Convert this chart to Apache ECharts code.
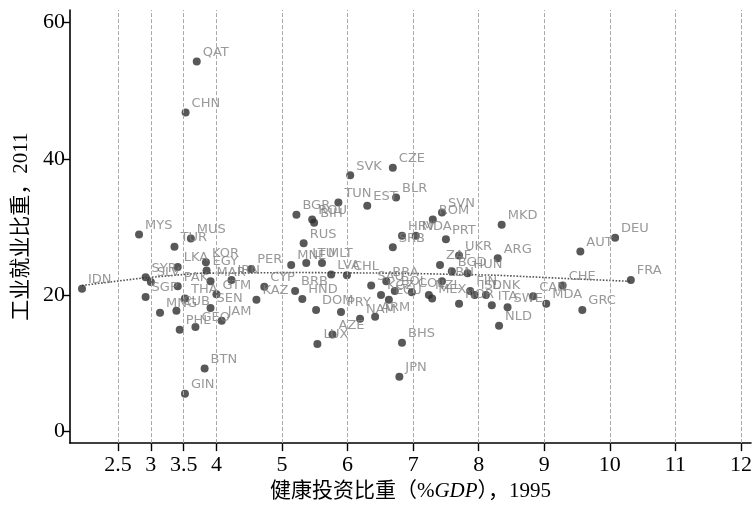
<!DOCTYPE html>
<html>
<head>
<meta charset="utf-8">
<script src="https://cdn.jsdelivr.net/npm/echarts@6/dist/echarts.min.js"></script>
<style>
  html, body { margin: 0; padding: 0; background: #fff; }
  #chart { width: 755px; height: 507px; }
</style>
</head>
<body>
<div id="chart"></div>
<script>
// country codes, health spending share 1995 (% GDP), industry employment share 2011
const countries = ['IDN','MYS','TUR','MUS','LKA','KOR','EGY','SYR','SLV','PAK','SGP','THA','MAR','IRN','PER','GTM','SEN','MNG','CUB','PHL','GEO','JAM','BTN','GIN','QAT','CHN','KAZ','CYP','BRB','HND','DOM','PRY','AZE','LUX','NAM','ARM','BHS','JPN','RUS','BGR','ROU','BIH','TUN','EST','BLR','SVK','CZE','MNE','LTU','MLT','LVA','CHL','SRB','HRV','MDA','SVN','ROM','PRT','MKD','UKR','ARG','ZAF','BGD','HUN','AUT','DEU','FRA','CHE','CAN','MDA','GRC','NLD','BRA','SAU','KGZ','ECU','BOL','COL','NZL','MEX','LBN','NOR','FIN','ISL','DNK','ITA','SWE'];
const healthShare = [1.95,2.82,3.36,3.61,3.41,3.84,3.85,2.92,3.00,3.41,2.92,3.52,3.91,4.23,4.53,4.00,3.91,3.14,3.39,3.44,3.68,4.08,3.82,3.52,3.70,3.53,4.61,4.73,5.20,5.31,5.52,5.90,5.77,5.54,6.19,6.42,6.83,6.79,5.33,5.22,5.46,5.49,5.86,6.30,6.74,6.04,6.69,5.14,5.37,5.61,5.75,5.99,6.69,6.83,7.04,7.44,7.30,7.50,8.35,7.70,8.29,7.41,7.59,7.83,9.55,10.08,10.32,9.28,8.83,9.03,9.58,8.31,6.59,6.36,6.51,6.63,6.72,6.98,7.24,7.29,7.44,7.70,7.87,7.94,8.11,8.20,8.44];
const industryShare = [20.9,28.9,27.1,28.3,24.1,24.8,23.6,22.6,21.9,21.3,19.7,19.5,22.0,22.2,23.8,20.1,18.1,17.4,17.7,14.9,15.3,16.2,9.2,5.5,54.3,46.8,19.3,21.2,20.6,19.4,17.8,17.5,14.2,12.8,16.5,16.8,13.0,8.0,27.6,31.8,31.1,30.6,33.6,33.1,34.3,37.6,38.7,24.4,24.7,24.7,23.0,22.9,27.0,28.7,28.7,32.1,31.1,28.2,30.3,25.8,25.4,24.4,23.5,23.2,26.4,28.4,22.2,21.4,19.8,18.7,17.8,15.5,22.0,21.4,20.0,19.3,20.6,20.4,20.0,19.5,22.0,18.7,20.6,20.0,20.0,18.5,18.2];

// fitted curve
const fitX = [1.95, 2.88, 3.74, 5.26, 6.78, 8.29, 9.37, 10.32];
const fitY = [21.4, 22.5, 23.2, 23.3, 23.2, 22.9, 22.4, 22.0];

const xTicks = [2.5, 3, 3.5, 4, 5, 6, 7, 8, 9, 10, 11, 12];
const yTicks = [0, 20, 40, 60];

const serif = '"Liberation Serif", "Noto Sans CJK SC", serif';

const chart = echarts.init(document.getElementById('chart'), null, { renderer: 'canvas' });

chart.setOption({
  animation: false,
  backgroundColor: '#fff',
  grid: { left: 70, right: 2, top: 10, bottom: 61 },
  xAxis: {
    type: 'value',
    min: 1.767,
    max: 12.153,
    name: '健康投资比重（%{i|GDP}），1995',
    nameLocation: 'middle',
    nameGap: 36,
    nameTextStyle: {
      fontFamily: serif, fontSize: 21, color: '#000',
      rich: { i: { fontFamily: serif, fontStyle: 'italic', fontSize: 21, color: '#000' } }
    },
    axisLine: { onZero: false, lineStyle: { color: '#000', width: 1.6 } },
    axisTick: { customValues: xTicks, length: 8, lineStyle: { color: '#000', width: 1.4 } },
    axisLabel: { customValues: xTicks, margin: 11, fontFamily: serif, fontSize: 22, color: '#000',
      formatter: v => String(v) },
    splitLine: { show: false }
  },
  yAxis: {
    type: 'value',
    min: -1.75,
    max: 61.85,
    name: '工业就业比重，2011',
    nameLocation: 'middle',
    nameRotate: 90,
    nameGap: 38,
    nameTextStyle: { fontFamily: serif, fontSize: 21, color: '#000' },
    axisLine: { show: true, onZero: false, lineStyle: { color: '#000', width: 1.6 } },
    axisTick: { show: true, customValues: yTicks, length: 6, lineStyle: { color: '#000', width: 1.4 } },
    axisLabel: { customValues: yTicks, margin: 5, fontFamily: serif, fontSize: 22, color: '#000' },
    splitLine: { show: false }
  },
  series: [
    {
      type: 'line',
      data: [],
      silent: true,
      z: 1,
      markLine: {
        silent: true,
        symbol: 'none',
        label: { show: false },
        lineStyle: { type: 'dashed', color: '#aaa', width: 1 },
        data: xTicks.map(v => ({ xAxis: v }))
      }
    },
    {
      type: 'line',
      data: fitX.map((x, i) => [x, fitY[i]]),
      symbol: 'none',
      silent: true,
      z: 2,
      lineStyle: { type: 'dotted', color: '#555', width: 1.6 }
    },
    {
      type: 'scatter',
      z: 3,
      symbolSize: 8,
      itemStyle: { color: '#2e2e2e' },
      data: countries.map((c, i) => ({ name: c, value: [healthShare[i], industryShare[i]] })),
      label: {
        show: true,
        position: 'right',
        distance: 2,
        offset: [0, -9],
        formatter: p => p.name,
        fontFamily: '"DejaVu Sans", sans-serif',
        fontSize: 13,
        color: '#808080'
      }
    }
  ]
});
</script>
</body>
</html>
